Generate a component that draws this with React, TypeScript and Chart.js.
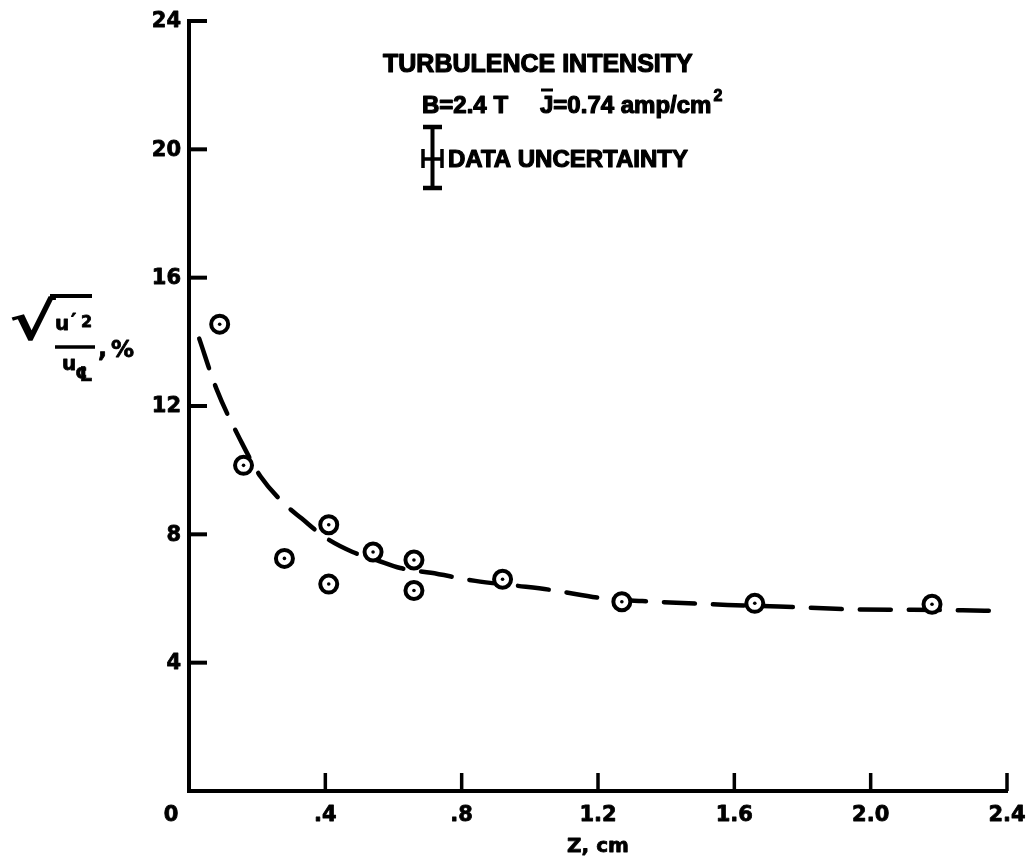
import { useEffect, useRef } from "react";
import { Chart, registerables } from "chart.js";

Chart.register(...registerables);

// Measured points: distance Z (cm) and turbulence intensity (%)
const zPositions = [0.09, 0.16, 0.28, 0.41, 0.41, 0.54, 0.66, 0.66, 0.92, 1.27, 1.66, 2.18];
const intensityValues = [14.55, 10.15, 7.25, 8.3, 6.45, 7.45, 7.2, 6.25, 6.6, 5.9, 5.85, 5.82];

// Dashed faired curve
const fitZ = [0.03, 0.08, 0.155, 0.21, 0.285, 0.33, 0.4, 0.48, 0.55, 0.62, 0.71, 0.84, 0.96, 1.06, 1.22, 1.33, 1.58, 1.73, 1.96, 2.12, 2.27, 2.35];
const fitIntensity = [14.1, 12.55, 10.85, 9.8, 8.9, 8.5, 7.9, 7.45, 7.2, 6.95, 6.8, 6.55, 6.4, 6.27, 6.0, 5.92, 5.8, 5.75, 5.66, 5.65, 5.63, 5.62];

// Axis ticks
const xTickValues = [0, 0.4, 0.8, 1.2, 1.6, 2.0, 2.4];
const xTickLabels = ["0", ".4", ".8", "1.2", "1.6", "2.0", "2.4"];
const yTickValues = [0, 4, 8, 12, 16, 20, 24];
const yTickLabels = ["", "4", "8", "12", "16", "20", "24"];

// Texts
const titleLine = "TURBULENCE INTENSITY";
const conditionB = "B=2.4 T";
const conditionJ = "J";
const conditionJValue = "=0.74 amp/cm";
const conditionJExp = "2";
const uncertaintyLabel = "DATA UNCERTAINTY";
const xAxisTitle = "Z, cm";

const LIB = '"Liberation Sans", Arial, sans-serif';
const DJV = '"DejaVu Sans", sans-serif';

function boldText(ctx: CanvasRenderingContext2D, t: string, x: number, y: number, w = 1) {
  ctx.fillText(t, x, y);
  if (w > 0) {
    ctx.lineWidth = w;
    ctx.lineJoin = "round";
    ctx.strokeText(t, x, y);
  }
}

const overlay = {
  id: "overlay",
  afterDraw(chart: any) {
    const { ctx, chartArea, scales } = chart;
    const x = scales.x;
    const y = scales.y;
    ctx.save();
    ctx.strokeStyle = "#000";
    ctx.fillStyle = "#000";
    ctx.lineCap = "butt";

    // inward tick marks
    ctx.lineWidth = 4;
    yTickValues.forEach((v) => {
      if (v === 0) return;
      const py = y.getPixelForValue(v);
      ctx.beginPath();
      ctx.moveTo(chartArea.left, py);
      ctx.lineTo(chartArea.left + 18, py);
      ctx.stroke();
    });
    ctx.lineWidth = 3.5;
    xTickValues.forEach((v) => {
      if (v === 0) return;
      const px = x.getPixelForValue(v);
      ctx.beginPath();
      ctx.moveTo(px, chartArea.bottom);
      ctx.lineTo(px, chartArea.bottom - 18);
      ctx.stroke();
    });

    // tick labels
    ctx.font = `bold 21px ${DJV}`;
    ctx.textAlign = "right";
    ctx.textBaseline = "middle";
    yTickValues.forEach((v, i) => {
      const py = y.getPixelForValue(v);
      boldText(ctx, yTickLabels[i], chartArea.left - 8, py + 1, 0.8);
    });
    ctx.textAlign = "center";
    ctx.textBaseline = "alphabetic";
    xTickValues.forEach((v, i) => {
      let px = x.getPixelForValue(v);
      if (v === 0) px -= 18;
      boldText(ctx, xTickLabels[i], px, chartArea.bottom + 30, 0.8);
    });

    // x axis title
    ctx.font = `bold 20px ${DJV}`;
    boldText(ctx, xAxisTitle, (chartArea.left + chartArea.right) / 2, chartArea.bottom + 61, 0.8);

    // annotation block
    ctx.textAlign = "left";
    ctx.font = `bold 25px ${LIB}`;
    boldText(ctx, titleLine, 383, 72, 1.2);
    ctx.font = `bold 24px ${LIB}`;
    boldText(ctx, conditionB, 422, 113, 1.2);
    boldText(ctx, conditionJ, 540, 113, 1.2);
    const jw = ctx.measureText(conditionJ).width;
    ctx.lineWidth = 3;
    ctx.beginPath();
    ctx.moveTo(541, 90);
    ctx.lineTo(553, 90);
    ctx.stroke();
    boldText(ctx, conditionJValue, 540 + jw, 113, 1.2);
    const vw = ctx.measureText(conditionJValue).width;
    ctx.font = `bold 16px ${LIB}`;
    boldText(ctx, conditionJExp, 542 + jw + vw, 101, 1);
    ctx.font = `bold 24px ${LIB}`;
    boldText(ctx, uncertaintyLabel, 448, 167, 1.2);

    // uncertainty symbol
    ctx.lineWidth = 4;
    ctx.beginPath();
    ctx.moveTo(432.5, 127);
    ctx.lineTo(432.5, 188);
    ctx.stroke();
    ctx.lineWidth = 4.5;
    ctx.beginPath();
    ctx.moveTo(423, 127);
    ctx.lineTo(442, 127);
    ctx.moveTo(423, 188);
    ctx.lineTo(442, 188);
    ctx.stroke();
    ctx.lineWidth = 3.5;
    ctx.beginPath();
    ctx.moveTo(423, 149);
    ctx.lineTo(423, 168);
    ctx.moveTo(442, 149);
    ctx.lineTo(442, 168);
    ctx.moveTo(423, 159);
    ctx.lineTo(442, 159);
    ctx.stroke();

    // y axis title: sqrt(u'^2)/u_cl, %
    ctx.save();
    ctx.translate(9, 340);
    ctx.scale(1.35, 1);
    ctx.font = `bold 52px ${DJV}`;
    ctx.fillText("√", 0, 0);
    ctx.restore();
    ctx.lineWidth = 4;
    ctx.beginPath();
    ctx.moveTo(50, 296);
    ctx.lineTo(92, 296);
    ctx.stroke();
    ctx.font = `bold 20px ${DJV}`;
    boldText(ctx, "u", 55, 330, 0.8);
    boldText(ctx, "′", 71, 327, 0.8);
    ctx.font = `bold 16px ${DJV}`;
    boldText(ctx, "2", 81, 327, 0.8);
    ctx.lineWidth = 3.5;
    ctx.beginPath();
    ctx.moveTo(55, 347);
    ctx.lineTo(95, 347);
    ctx.stroke();
    ctx.font = `bold 20px ${DJV}`;
    boldText(ctx, "u", 62, 370, 0.8);
    ctx.font = `bold 20px ${DJV}`;
    boldText(ctx, "℄", 75, 381, 0.6);
    ctx.font = `bold 24px ${DJV}`;
    boldText(ctx, ",", 98, 356, 0.8);
    ctx.font = `bold 23px ${DJV}`;
    boldText(ctx, "%", 111, 357, 0.8);

    ctx.restore();
  },
};

export default function App() {
  const ref = useRef<HTMLCanvasElement>(null);
  useEffect(() => {
    const canvas = ref.current;
    if (!canvas) return;
    const points = zPositions.map((z, i) => ({ x: z, y: intensityValues[i] }));
    const curve = fitZ.map((z, i) => ({ x: z, y: fitIntensity[i] }));
    const chart = new Chart(canvas, {
      type: "scatter",
      data: {
        datasets: [
          {
            label: "faired curve",
            data: curve,
            showLine: true,
            borderColor: "#000",
            borderWidth: 4.5,
            borderDash: [31, 18],
            borderCapStyle: "round",
            pointRadius: 0,
            cubicInterpolationMode: "monotone",
            fill: false,
            order: 3,
          } as any,
          {
            label: "measured",
            data: points,
            pointRadius: 8.5,
            pointBorderWidth: 4,
            pointBackgroundColor: "#fff",
            pointBorderColor: "#000",
            showLine: false,
            order: 2,
          } as any,
          {
            label: "centre",
            data: points,
            pointRadius: 1.8,
            pointBorderWidth: 0,
            pointBackgroundColor: "#000",
            pointBorderColor: "#000",
            showLine: false,
            order: 1,
          } as any,
        ],
      },
      options: {
        responsive: false,
        animation: false,
        events: [],
        layout: { padding: { top: 21, right: 21, left: 0, bottom: 0 } },
        plugins: { legend: { display: false }, tooltip: { enabled: false } },
        scales: {
          x: {
            type: "linear",
            min: 0,
            max: 2.4,
            afterBuildTicks: (s: any) => {
              s.ticks = xTickValues.map((v) => ({ value: v }));
            },
            afterFit: (s: any) => {
              s.height = 71;
            },
            ticks: { display: false },
            grid: { drawOnChartArea: false, drawTicks: false },
            border: { display: true, width: 4, color: "#000" },
          },
          y: {
            type: "linear",
            min: 0,
            max: 24,
            afterBuildTicks: (s: any) => {
              s.ticks = yTickValues.map((v) => ({ value: v }));
            },
            afterFit: (s: any) => {
              s.width = 189;
            },
            ticks: { display: false },
            grid: { drawOnChartArea: false, drawTicks: false },
            border: { display: true, width: 4, color: "#000" },
          },
        },
      } as any,
      plugins: [overlay],
    });
    return () => chart.destroy();
  }, []);
  return (
    <div style={{ position: "absolute", left: 0, top: 0, width: 1028, height: 862, background: "#fff" }}>
      <canvas ref={ref} width={1028} height={862} style={{ display: "block" }} />
    </div>
  );
}
